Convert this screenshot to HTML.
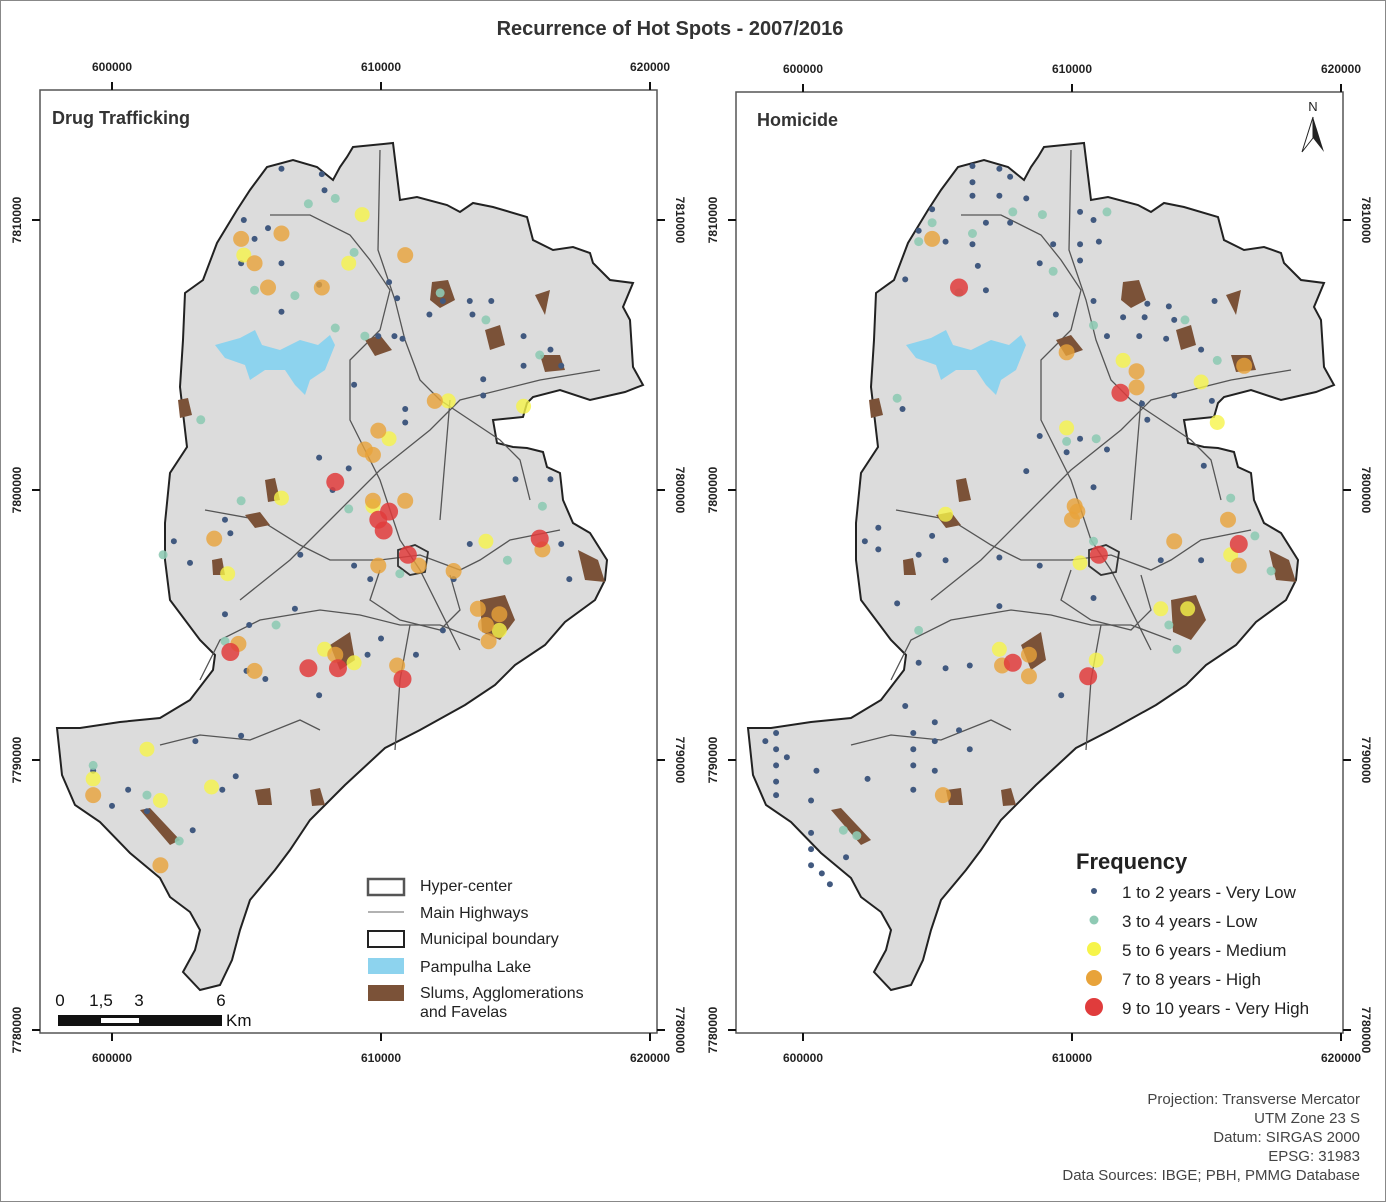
<!DOCTYPE html>
<html><head><meta charset="utf-8"><style>
body{margin:0;background:#fff}
svg{display:block;font-family:"Liberation Sans",sans-serif}
</style></head><body>
<svg id="root" width="1386" height="1202" viewBox="0 0 1386 1202">
<rect x="0.5" y="0.5" width="1385" height="1201" fill="#fff" stroke="#888"/>
<text x="670" y="35" text-anchor="middle" font-size="20" font-weight="bold" fill="#333">Recurrence of Hot Spots - 2007/2016</text>
<defs>
<g id="cityShape">
<path d="M353,147 L393,143 L400,200 L417,197 L447,205 L460,212 L473,203 L493,207 L527,217 L533,240 L553,250 L573,247 L590,253 L593,263 L610,280 L633,283 L623,307 L630,320 L633,367 L643,385 L625,392 L590,400 L560,390 L533,397 L527,403 L523,417 L493,420 L497,443 L513,447 L527,448 L543,452 L547,467 L560,473 L563,500 L573,523 L590,533 L607,560 L605,580 L595,600 L565,622 L545,645 L515,665 L495,685 L465,705 L420,730 L385,748 L345,785 L310,820 L290,850 L275,870 L250,900 L240,930 L232,960 L220,985 L200,990 L183,972 L195,950 L200,930 L190,912 L170,897 L160,878 L130,853 L100,822 L75,805 L62,775 L57,728 L80,728 L120,722 L160,718 L190,700 L213,670 L215,655 L200,640 L170,600 L165,560 L165,523 L170,473 L187,447 L180,387 L183,340 L185,293 L203,280 L217,243 L237,210 L250,190 L267,167 L293,160 L317,167 L333,180 L340,167 L347,157 Z" fill="#dcdcdc" stroke="#222" stroke-width="2"/>
<path d="M215,345 L240,338 L255,330 L262,345 L280,350 L300,340 L318,345 L330,335 L335,345 L325,370 L310,380 L305,395 L295,385 L285,370 L265,370 L250,380 L245,365 L225,358 Z" fill="#8dd3ee"/>
<g fill="none" stroke="#555" stroke-width="1.3">
<path d="M380,150 L378,250 L395,300 L405,340 L420,380 L440,400 L470,420 L500,440 L520,460 L530,500"/>
<path d="M270,215 L310,215 L350,235 L370,260 L390,290 L380,330 L350,360 L350,420 L380,480 L400,540 L420,570 L460,650"/>
<path d="M240,600 L290,560 L330,520 L380,470 L430,430 L460,400 L540,380 L600,370"/>
<path d="M205,510 L260,520 L300,545 L330,560 L380,560 L420,555 L460,570 L480,560 L510,540 L560,530"/>
<path d="M200,680 L220,640 L260,620 L320,610 L360,615 L400,625 L440,625 L480,640"/>
<path d="M380,570 L370,600 L400,620 L440,630 L460,610 L450,575"/>
<path d="M410,625 L400,680 L395,750"/>
<path d="M160,745 L200,735 L250,740 L300,720 L320,730"/>
<path d="M450,400 L445,460 L440,520"/>
</g>
<path d="M398,550 L415,545 L428,552 L425,572 L410,575 L398,566 Z" fill="none" stroke="#333" stroke-width="1.8"/>
<g fill="#7b5238">
<path d="M432,282 L448,280 L455,300 L440,308 L430,300 Z"/>
<path d="M365,340 L380,335 L392,350 L375,356 Z"/>
<path d="M485,330 L500,325 L505,345 L490,350 Z"/>
<path d="M540,355 L560,355 L565,370 L545,372 Z"/>
<path d="M178,400 L188,398 L192,415 L180,418 Z"/>
<path d="M578,550 L598,560 L605,582 L585,580 Z"/>
<path d="M480,600 L505,595 L515,620 L500,640 L482,632 Z"/>
<path d="M330,645 L350,632 L355,660 L340,670 Z"/>
<path d="M255,790 L270,788 L272,805 L258,805 Z"/>
<path d="M140,810 L150,808 L180,840 L170,845 Z"/>
<path d="M265,480 L275,478 L280,500 L268,502 Z"/>
<path d="M212,560 L222,558 L225,575 L213,575 Z"/>
<path d="M245,515 L260,512 L270,525 L255,528 Z"/>
<path d="M310,790 L320,788 L325,805 L312,806 Z"/>
<path d="M535,295 L550,290 L545,315 Z"/>
</g>
</g>
</defs>

<!-- LEFT PANEL -->
<g>
<rect x="40" y="90" width="617" height="943" fill="#fff" stroke="#555" stroke-width="1.5"/>
<use href="#cityShape"/>
<g id="leftDots"></g>
<text x="52" y="124" font-size="18" font-weight="bold" fill="#333">Drug Trafficking</text>
</g>
<!-- RIGHT PANEL -->
<g>
<rect x="736" y="92" width="607" height="941" fill="#fff" stroke="#555" stroke-width="1.5"/>
<use href="#cityShape" transform="translate(691,0)"/>
<g id="rightDots"></g>
<text x="757" y="126" font-size="18" font-weight="bold" fill="#333">Homicide</text>
<g>
<text x="1313" y="111" font-size="13" text-anchor="middle" fill="#222">N</text>
<path d="M1313,117 L1302,152 L1313,138 Z" fill="#fff" stroke="#222"/>
<path d="M1313,117 L1324,152 L1313,138 Z" fill="#222"/>
</g>
</g>
<g id="axes"></g>

<!-- left legend -->
<g font-size="16" fill="#222">
<rect x="368" y="879" width="36" height="16" fill="#fff" stroke="#555" stroke-width="2.5"/>
<text x="420" y="891">Hyper-center</text>
<line x1="368" y1="912" x2="404" y2="912" stroke="#999" stroke-width="1.5"/>
<text x="420" y="918">Main Highways</text>
<rect x="368" y="931" width="36" height="16" fill="#fff" stroke="#222" stroke-width="2"/>
<text x="420" y="944">Municipal boundary</text>
<rect x="368" y="958" width="36" height="16" fill="#8dd3ee"/>
<text x="420" y="972">Pampulha Lake</text>
<rect x="368" y="985" width="36" height="16" fill="#7b5238"/>
<text x="420" y="998">Slums, Agglomerations</text>
<text x="420" y="1017">and Favelas</text>
</g>
<g font-size="17" fill="#111">
<text x="60" y="1006" text-anchor="middle">0</text>
<text x="101" y="1006" text-anchor="middle">1,5</text>
<text x="139" y="1006" text-anchor="middle">3</text>
<text x="221" y="1006" text-anchor="middle">6</text>
<rect x="58" y="1015" width="164" height="11" fill="#111"/>
<rect x="101" y="1018" width="38" height="5" fill="#fff"/>
<text x="226" y="1026">Km</text>
</g>
<!-- frequency legend -->
<g font-size="17" fill="#222">
<text x="1076" y="869" font-size="22" font-weight="bold">Frequency</text>
<circle cx="1094" cy="891" r="3" fill="#41597f"/>
<text x="1122" y="898">1 to 2 years - Very Low</text>
<circle cx="1094" cy="920" r="4.5" fill="#8fcab4"/>
<text x="1122" y="927">3 to 4 years - Low</text>
<circle cx="1094" cy="949" r="7" fill="#f6f44a"/>
<text x="1122" y="956">5 to 6 years - Medium</text>
<circle cx="1094" cy="978" r="8" fill="#e8a33a"/>
<text x="1122" y="985">7 to 8 years - High</text>
<circle cx="1094" cy="1007" r="9" fill="#e03c3c"/>
<text x="1122" y="1014">9 to 10 years - Very High</text>
</g>
<g font-size="15" fill="#444" text-anchor="end">
<text x="1360" y="1104">Projection: Transverse Mercator</text>
<text x="1360" y="1123">UTM Zone 23 S</text>
<text x="1360" y="1142">Datum: SIRGAS 2000</text>
<text x="1360" y="1161">EPSG: 31983</text>
<text x="1360" y="1180">Data Sources: IBGE; PBH, PMMG Database</text>
</g>
</svg>
<script>
// km east of 600000 / km north of 7780000
const eastingTicks = [0, 10, 20];
const eastingLabels = ["600000", "610000", "620000"];
const northingTicks = [30, 20, 10, 0];
const northingLabels = ["7810000", "7800000", "7790000", "7780000"];

const drugVeryLow = [[6.3,31.9],[7.8,31.7],[7.9,31.1],[4.9,30.0],[5.8,29.7],[5.3,29.3],[4.8,28.4],[6.3,28.4],[7.7,27.6],[6.3,26.6],[10.3,27.7],[10.6,27.1],[9.9,25.7],[10.5,25.7],[12.3,27.0],[13.3,27.0],[14.1,27.0],[13.4,26.5],[10.8,25.6],[11.8,26.5],[15.3,25.7],[15.3,24.6],[16.3,25.2],[16.7,24.6],[13.8,24.1],[13.8,23.5],[9.0,23.9],[10.9,23.0],[10.9,22.5],[7.7,21.2],[8.8,20.8],[8.2,20.0],[16.3,20.4],[15.0,20.4],[16.7,18.0],[17.0,16.7],[13.3,18.0],[12.7,16.7],[7.0,17.6],[4.4,18.4],[2.9,17.3],[2.3,18.1],[4.2,18.9],[9.6,16.7],[6.8,15.6],[4.2,15.4],[5.1,15.0],[9.0,17.2],[9.5,13.9],[7.7,12.4],[5.0,13.3],[5.7,13.0],[10.0,14.5],[11.3,13.9],[12.3,14.8],[3.1,10.7],[4.6,9.4],[4.1,8.9],[1.3,8.1],[0.0,8.3],[-0.7,9.6],[4.8,10.9],[3.0,7.4],[0.6,8.9]];
const drugLow = [[8.3,30.8],[7.3,30.6],[9.0,28.8],[6.8,27.2],[5.3,27.4],[8.3,26.0],[9.4,25.7],[12.2,27.3],[13.9,26.3],[15.9,25.0],[3.3,22.6],[1.9,17.6],[4.8,19.6],[8.8,19.3],[16.0,19.4],[14.7,17.4],[4.2,14.4],[6.1,15.0],[-0.7,9.8],[1.3,8.7],[2.5,7.0],[10.7,16.9]];
const drugMedium = [[9.3,30.2],[4.9,28.7],[8.8,28.4],[12.5,23.3],[15.3,23.1],[10.3,21.9],[6.3,19.7],[4.3,16.9],[13.9,18.1],[14.4,14.8],[7.9,14.1],[9.0,13.6],[1.3,10.4],[3.7,9.0],[1.8,8.5],[-0.7,9.3],[9.7,19.4]];
const drugHigh = [[4.8,29.3],[6.3,29.5],[5.8,27.5],[5.3,28.4],[7.8,27.5],[10.9,28.7],[12.0,23.3],[9.9,22.2],[9.4,21.5],[9.7,21.3],[9.7,19.6],[10.9,19.6],[9.9,17.2],[3.8,18.2],[13.9,15.0],[14.4,15.4],[13.6,15.6],[14.0,14.4],[16.0,17.8],[5.3,13.3],[8.3,13.9],[10.6,13.5],[-0.7,8.7],[1.8,6.1],[12.7,17.0],[11.4,17.2],[4.7,14.3]];
const drugVeryHigh = [[8.3,20.3],[9.9,18.9],[10.3,19.2],[10.1,18.5],[11.0,17.6],[15.9,18.2],[4.4,14.0],[7.3,13.4],[8.4,13.4],[10.8,13.0]];

const homVeryLow = [[6.3,32.0],[7.3,31.9],[7.7,31.6],[6.3,31.4],[6.3,30.9],[7.3,30.9],[8.3,30.8],[4.8,30.4],[6.8,29.9],[7.7,29.9],[4.3,29.6],[5.3,29.2],[6.3,29.1],[10.3,30.3],[10.8,30.0],[9.3,29.1],[10.3,29.1],[11.0,29.2],[10.3,28.5],[8.8,28.4],[3.8,27.8],[6.5,28.3],[6.8,27.4],[9.4,26.5],[10.8,27.0],[11.9,26.4],[12.7,26.4],[13.8,26.3],[12.8,26.9],[13.6,26.8],[12.5,25.7],[13.5,25.6],[11.3,25.7],[15.3,27.0],[14.8,25.2],[15.2,23.3],[13.8,23.5],[12.6,23.2],[10.3,21.9],[11.3,21.5],[12.8,22.6],[8.8,22.0],[3.7,23.0],[8.3,20.7],[9.8,21.4],[14.9,20.9],[10.8,20.1],[2.8,18.6],[2.3,18.1],[2.8,17.8],[4.3,17.6],[4.8,18.3],[5.3,17.4],[7.3,17.5],[8.8,17.2],[13.3,17.4],[14.8,17.4],[10.8,16.0],[3.5,15.8],[7.3,15.7],[4.3,13.6],[5.3,13.4],[6.2,13.5],[-1.4,10.7],[-1.0,11.0],[-1.0,10.4],[-0.6,10.1],[-1.0,9.8],[-1.0,9.2],[-1.0,8.7],[0.5,9.6],[2.4,9.3],[4.1,8.9],[4.1,11.0],[4.1,10.4],[4.1,9.8],[4.9,9.6],[4.9,10.7],[4.9,11.4],[9.6,12.4],[6.2,10.4],[5.8,11.1],[0.3,8.5],[0.3,7.3],[0.3,6.7],[0.3,6.1],[0.7,5.8],[1.0,5.4],[1.6,6.4],[3.8,12.0]];
const homLow = [[8.9,30.2],[7.8,30.3],[4.8,29.9],[4.3,29.2],[6.3,29.5],[11.3,30.3],[9.3,28.1],[5.8,27.3],[10.8,26.1],[14.2,26.3],[15.4,24.8],[9.8,21.8],[10.9,21.9],[3.5,23.4],[15.9,19.7],[16.8,18.3],[17.4,17.0],[4.3,14.8],[10.8,18.1],[13.6,15.0],[13.9,14.1],[2.0,7.2],[1.5,7.4]];
const homMedium = [[11.9,24.8],[9.8,22.3],[14.8,24.0],[15.4,22.5],[5.3,19.1],[10.3,17.3],[13.3,15.6],[14.3,15.6],[15.9,17.6],[7.3,14.1],[10.9,13.7]];
const homHigh = [[4.8,29.3],[9.8,25.1],[12.4,24.4],[12.4,23.8],[16.4,24.6],[10.1,19.4],[10.2,19.2],[10.0,18.9],[13.8,18.1],[15.8,18.9],[16.2,17.2],[7.4,13.5],[8.4,13.9],[8.4,13.1],[5.2,8.7]];
const homVeryHigh = [[5.8,27.5],[11.8,23.6],[11.0,17.6],[16.2,18.0],[7.8,13.6],[10.6,13.1]];

const NS = "http://www.w3.org/2000/svg";
const KM = 26.9, KMY = 27;
function xLeft(e){ return 112 + e*KM; }
function xRight(e){ return 803 + e*KM; }
function yMap(n){ return 1030 - n*KMY; }

const styles = [
  {r:3, fill:"#41597f", op:1},
  {r:4.5, fill:"#8fcab4", op:0.9},
  {r:7.5, fill:"#f6f44a", op:0.8},
  {r:8, fill:"#e8a33a", op:0.8},
  {r:9, fill:"#e03c3c", op:0.85}
];
const names = ["very-low","low","medium","high","very-high"];

function drawSet(gId, xf, sets, prefix){
  const g = document.getElementById(gId);
  sets.forEach((pts, ci) => {
    const s = styles[ci];
    pts.forEach(p => {
      const c = document.createElementNS(NS, "circle");
      c.setAttribute("cx", xf(p[0]));
      c.setAttribute("cy", yMap(p[1]));
      c.setAttribute("r", s.r);
      c.setAttribute("fill", s.fill);
      c.setAttribute("fill-opacity", s.op);
      
      
      g.appendChild(c);
    });
  });
}
drawSet("leftDots", xLeft, [drugVeryLow, drugLow, drugMedium, drugHigh, drugVeryHigh], "drug");
drawSet("rightDots", xRight, [homVeryLow, homLow, homMedium, homHigh, homVeryHigh], "homicide");

const ax = document.getElementById("axes");
function addText(x, y, str, rot, name){
  const t = document.createElementNS(NS, "text");
  t.setAttribute("x", x); t.setAttribute("y", y);
  t.setAttribute("font-size", "12"); t.setAttribute("font-weight", "bold");
  t.setAttribute("fill", "#222"); t.setAttribute("text-anchor", "middle");
  if (rot) t.setAttribute("transform", "rotate(" + rot + " " + x + " " + y + ")");
  t.textContent = str;
  
  
  ax.appendChild(t);
}
function addLine(x1, y1, x2, y2){
  const l = document.createElementNS(NS, "line");
  l.setAttribute("x1", x1); l.setAttribute("y1", y1);
  l.setAttribute("x2", x2); l.setAttribute("y2", y2);
  l.setAttribute("stroke", "#111"); l.setAttribute("stroke-width", "2");
  
  
  ax.appendChild(l);
}
[[xLeft, 40, 657, 90], [xRight, 736, 1343, 92]].forEach(([xf, L, R, T]) => {
  eastingTicks.forEach((e, i) => {
    const x = xf(e);
    addLine(x, T-8, x, T); addLine(x, 1033, x, 1041);
    addText(x, T-19, eastingLabels[i], 0, "easting-label");
    addText(x, 1062, eastingLabels[i], 0, "easting-label");
  });
  northingTicks.forEach((n, i) => {
    const y = yMap(n);
    addLine(L-8, y, L, y); addLine(R, y, R+8, y);
    addText(L-19, y, northingLabels[i], -90, "northing-label");
    addText(R+19, y, northingLabels[i], 90, "northing-label");
  });
});
</script>
</body></html>
